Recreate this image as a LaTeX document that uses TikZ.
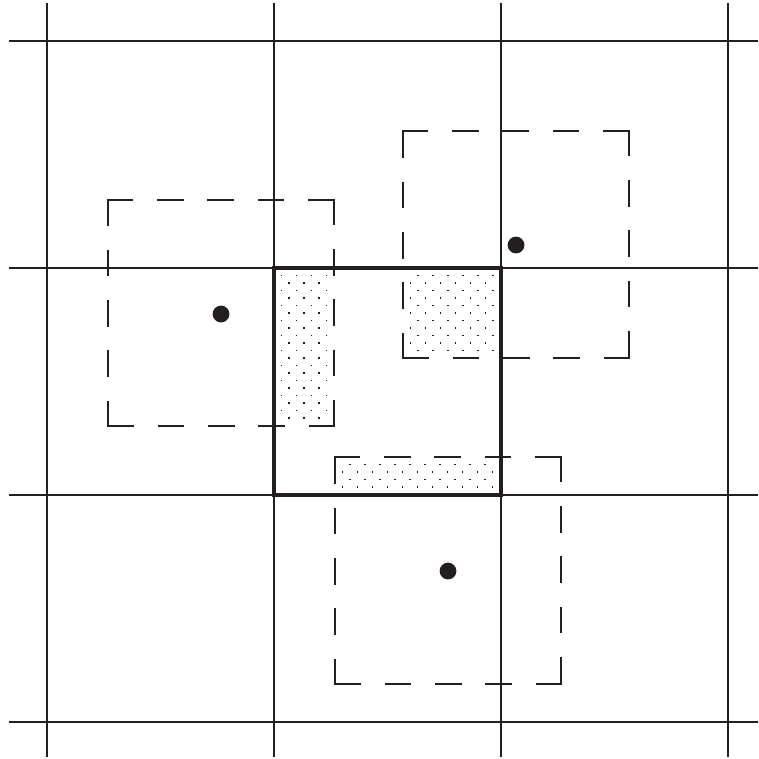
\documentclass[tikz,border=0pt]{standalone}
\definecolor{ink}{RGB}{35,31,32}
\newcommand\stipplereg[5]{%
  \begin{scope}
    \clip (#1+2,#2+2) rectangle (#3-2,#4-2);
    \foreach \j in {0,...,24} {
      \foreach \i in {0,...,14} {
        \fill[ink] ({#1+7.5*mod(\j+#5,2)+15*\i-0.8},{#2+7.5*(\j+1)-0.8}) rectangle +(1.7,1.7);
      }
    }
  \end{scope}}
\newcommand\dashedbox[4]{%
  \draw[dbox] (#1,#2) -- (#3,#2);
  \draw[dbox] (#3,#2) -- (#3,#4);
  \draw[dbox] (#3,#4) -- (#1,#4);
  \draw[dbox] (#1,#4) -- (#1,#2);}
\begin{document}
\begin{tikzpicture}[x=0.75pt,y=-0.75pt,
  gridline/.style={line width=1.5pt, draw=ink},
  boldsq/.style={line width=2.6pt, draw=ink},
  dbox/.style={line width=1.6pt, draw=ink, line cap=rect, dash pattern=on 18.3pt off 19.4pt},
  ctrdot/.style={circle, fill=ink, inner sep=0pt, minimum size=12.6pt}]
\useasboundingbox (0,0) rectangle (759,758);
% stippled intersections
\stipplereg{274}{268}{334}{426}{1}
\stipplereg{403}{268}{501}{358}{0}
\stipplereg{335}{457}{501}{495}{0}
% grid
\foreach \x in {47,274,501,728} \draw[gridline] (\x,3) -- (\x,757);
\foreach \y in {41,268,495,722} \draw[gridline] (9,\y) -- (758,\y);
% central square
\draw[boldsq] (274,268) rectangle (501,495);
% dashed boxes
\dashedbox{108}{200}{334}{426}
\dashedbox{403}{131}{629}{358}
\dashedbox{335}{457}{561}{684}
% centre dots
\node[ctrdot] (dl) at (221,314) {};
\node[ctrdot] (dt) at (516,245) {};
\node[ctrdot] (db) at (448,571) {};
\end{tikzpicture}
\end{document}
